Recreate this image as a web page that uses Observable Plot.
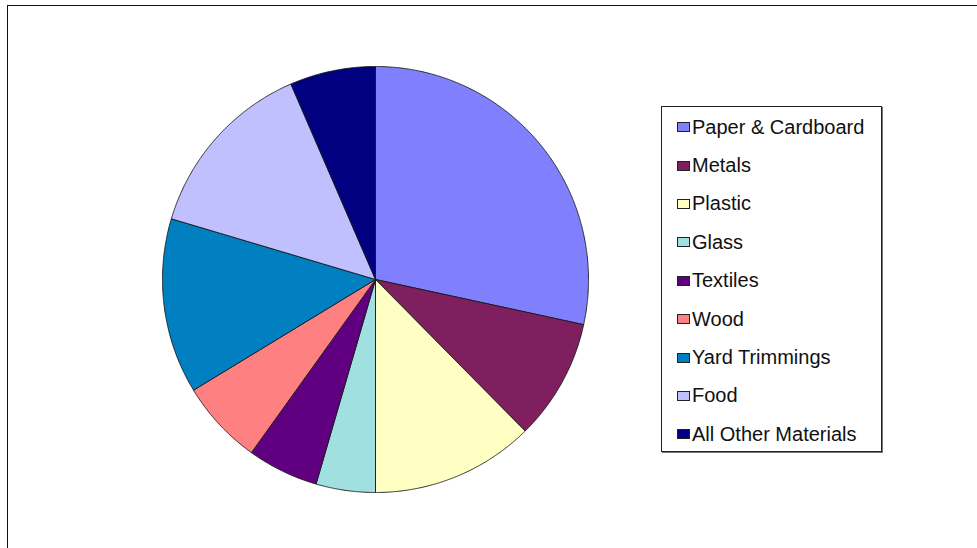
<!DOCTYPE html>
<html><head><meta charset="utf-8">
<script src="https://cdn.jsdelivr.net/npm/d3@7"></script>
<script src="https://cdn.jsdelivr.net/npm/@observablehq/plot@0.6"></script>
<style>
html,body{margin:0;padding:0;background:#fff;overflow:hidden;}
#wrap{position:relative;width:977px;height:548px;overflow:hidden;font-family:Arial,"Liberation Sans",sans-serif;background:#fff;}
#frame{position:absolute;left:7px;top:5px;width:1000px;height:600px;border-top:1.6px solid #111;border-left:1.6px solid #111;}
#chart{position:absolute;left:0;top:0;}
#legend{position:absolute;left:661px;top:106px;width:219px;height:343px;border:1px solid #222;box-shadow:1px 1px 0 #777;background:#fff;padding-top:1px;box-sizing:content-box;}
.row{height:38.4px;display:flex;align-items:center;font-size:20px;color:#111;white-space:nowrap;}
.sw{width:11px;height:8px;border:1px solid #222;margin-left:15px;margin-right:2px;flex:none;}
</style>
</head><body>
<div id="wrap"><div id="frame"></div><div id="chart"></div><div id="legend"></div></div>
<script>
const categories = ["Paper & Cardboard","Metals","Plastic","Glass","Textiles","Wood","Yard Trimmings","Food","All Other Materials"];
const shares = [28.4, 9.2, 12.4, 4.5, 5.4, 6.4, 13.3, 13.9, 6.5];
const colors = ["#8080ff","#7f1f5f","#ffffc4","#a0e0e0","#600080","#ff8080","#0080c0","#c0c0ff","#000080"];

// Build slice outlines from the pie angles (clockwise from 12 o'clock)
const arcs = d3.pie().sort(null).value(d => d)(shares);
const pts = [];
arcs.forEach((a, i) => {
  const cat = categories[i];
  pts.push({cat, x: 0, y: 0});
  const n = Math.max(2, Math.ceil((a.endAngle - a.startAngle) / 0.005));
  for (let k = 0; k <= n; k++) {
    const t = a.startAngle + (a.endAngle - a.startAngle) * k / n;
    pts.push({cat, x: Math.sin(t), y: Math.cos(t)});
  }
  pts.push({cat, x: 0, y: 0});
});

const plot = Plot.plot({
  width: 977, height: 548,
  marginTop: 0, marginBottom: 0, marginLeft: 0, marginRight: 0,
  x: {domain: [-1, 1], range: [162, 588], axis: null},
  y: {domain: [-1, 1], range: [492, 66], axis: null},
  color: {domain: categories, range: colors},
  style: {background: "transparent", overflow: "visible"},
  marks: [
    Plot.line(pts, {x: "x", y: "y", z: "cat", fill: "cat", stroke: "#1a1a1a", strokeWidth: 0.9, strokeLinejoin: "round", curve: "linear"})
  ]
});
document.getElementById("chart").append(plot);

const leg = document.getElementById("legend");
categories.forEach((c, i) => {
  const r = document.createElement("div"); r.className = "row";
  const s = document.createElement("span"); s.className = "sw"; s.style.background = colors[i];
  const t = document.createElement("span"); t.textContent = c;
  r.append(s, t); leg.append(r);
});
</script>
</body></html>
